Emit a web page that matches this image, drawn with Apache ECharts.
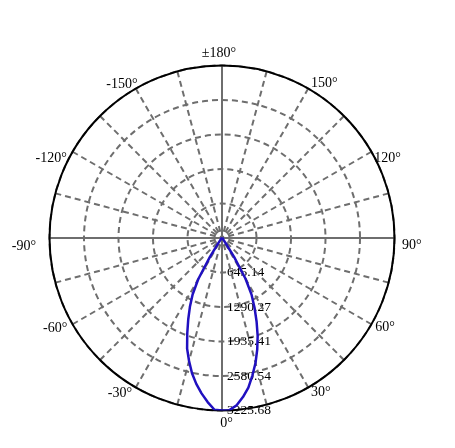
<!DOCTYPE html>
<html>
<head>
<meta charset="utf-8">
<script src="https://cdn.jsdelivr.net/npm/echarts@6/dist/echarts.min.js"></script>
<style>
html,body{margin:0;padding:0;background:#fff;}
#c{width:455px;height:448px;}
</style>
</head>
<body>
<div id="c"></div>
<script>
// Angles in degrees (0 = bottom, positive toward the right side)
const angles = [-180,-150,-120,-90,-75,-60,-50,-45,-40,-35,-32.5,-30,-27.5,-25,-22.5,-20,-17.5,-15,-12.5,-10,-7.5,-5,-2.5,
  0,2.5,5,7.5,10,12.5,15,17.5,20,22.5,25,27.5,30,32.5,35,40,45,50,60,75,90,120,150,180];
// Luminous intensity values
const intensity = [10,10,10,10,12,15,20,30,45,130,420,890,1190,1420,1650,1900,2170,2380,2590,2770,2930,3080,3215,
  3225.68,3222,3140,3000,2840,2630,2420,2190,1950,1690,1440,1200,880,420,120,40,25,18,15,12,10,10,10,10];
// Radius tick labels
const radiusTicks = [645.14, 1290.27, 1935.41, 2580.54, 3225.68];
const radiusMax = 3225.68;
const radiusStep = radiusMax / 5;

const data = angles.map((a, i) => [intensity[i], a < 0 ? a + 360 : a]);

// rich style key per angle tick value (0..360)
const labelKey = {0:'a0',30:'a30',60:'a60',90:'a90',120:'a120',150:'a150',180:'a180',
  210:'m150',240:'m120',270:'m90',300:'m60',330:'m30'};
function angleLabel(v) {
  if (!(v in labelKey)) return '';
  const txt = v === 180 ? '±180°' : (v > 180 ? v - 360 : v) + '°';
  return '{' + labelKey[v] + '|' + txt + '}';
}
function radiusLabel(v) {
  const idx = Math.round(v / radiusStep);
  if (idx <= 0) return '';
  return radiusTicks[idx - 1].toFixed(2);
}

const serif = "'Liberation Serif','DejaVu Serif',serif";
const gridGray = '#6e6e6e';
function rs(p) { return {fontFamily: serif, fontSize: 14, color: '#000', lineHeight: 14, padding: p}; }
const rich = {
  a0:   rs([76, 0, 0, 9]),
  a30:  rs([52, 0, 0, 19]),
  m30:  rs([54.5, 20, 0, 0]),
  a60:  rs([25, 0, 0, 32]),
  m60:  rs([27, 33.5, 0, 0]),
  a90:  rs([15, 0, 0, 40]),
  m90:  rs([17, 46, 0, 0]),
  a120: rs([0, 0, 6, 31]),
  m120: rs([0, 34, 5, 0]),
  a150: rs([0, 0, 52.5, 19]),
  m150: rs([0, 14.5, 50.5, 0]),
  a180: rs([0, 6, 76, 0])
};

const chart = echarts.init(document.getElementById('c'), null, {renderer: 'canvas'});
chart.setOption({
  animation: false,
  backgroundColor: '#fff',
  polar: [
    {center: [222, 238], radius: 172.5},
    {center: [222, 238], radius: 172.5}
  ],
  angleAxis: [
    {
      polarIndex: 0, type: 'value', min: 0, max: 360, interval: 15,
      startAngle: 270, clockwise: false,
      axisLine: {show: true, lineStyle: {color: '#000', width: 2}},
      axisTick: {show: false},
      axisLabel: {show: true, formatter: angleLabel, fontFamily: serif, fontSize: 14, color: '#000',
        margin: -32.5, rich: rich},
      splitLine: {show: true, lineStyle: {color: gridGray, width: 2, type: [6, 4]}},
      z: 1
    },
    {
      polarIndex: 1, type: 'value', min: 0, max: 360, interval: 90,
      startAngle: 270, clockwise: false,
      axisLine: {show: false}, axisTick: {show: false}, axisLabel: {show: false},
      splitLine: {show: true, lineStyle: {color: gridGray, width: 2, type: 'solid'}},
      z: 1
    }
  ],
  radiusAxis: [
    {
      polarIndex: 0, type: 'value', min: 0, max: radiusMax, interval: radiusStep,
      axisLine: {show: false}, axisTick: {show: false},
      axisLabel: {show: true, formatter: radiusLabel, fontFamily: serif, fontSize: 13.5, color: '#000', margin: 5},
      splitLine: {show: true, lineStyle: {color: gridGray, width: 2, type: [6, 4]}},
      z: 0
    },
    {
      polarIndex: 1, type: 'value', min: 0, max: radiusMax,
      axisLine: {show: false}, axisTick: {show: false}, axisLabel: {show: false},
      splitLine: {show: false}
    }
  ],
  series: [{
    type: 'line',
    coordinateSystem: 'polar',
    polarIndex: 0,
    data: data,
    showSymbol: false,
    smooth: false,
    lineStyle: {color: '#2010c0', width: 2.5},
    z: 5
  }]
});
</script>
</body>
</html>
